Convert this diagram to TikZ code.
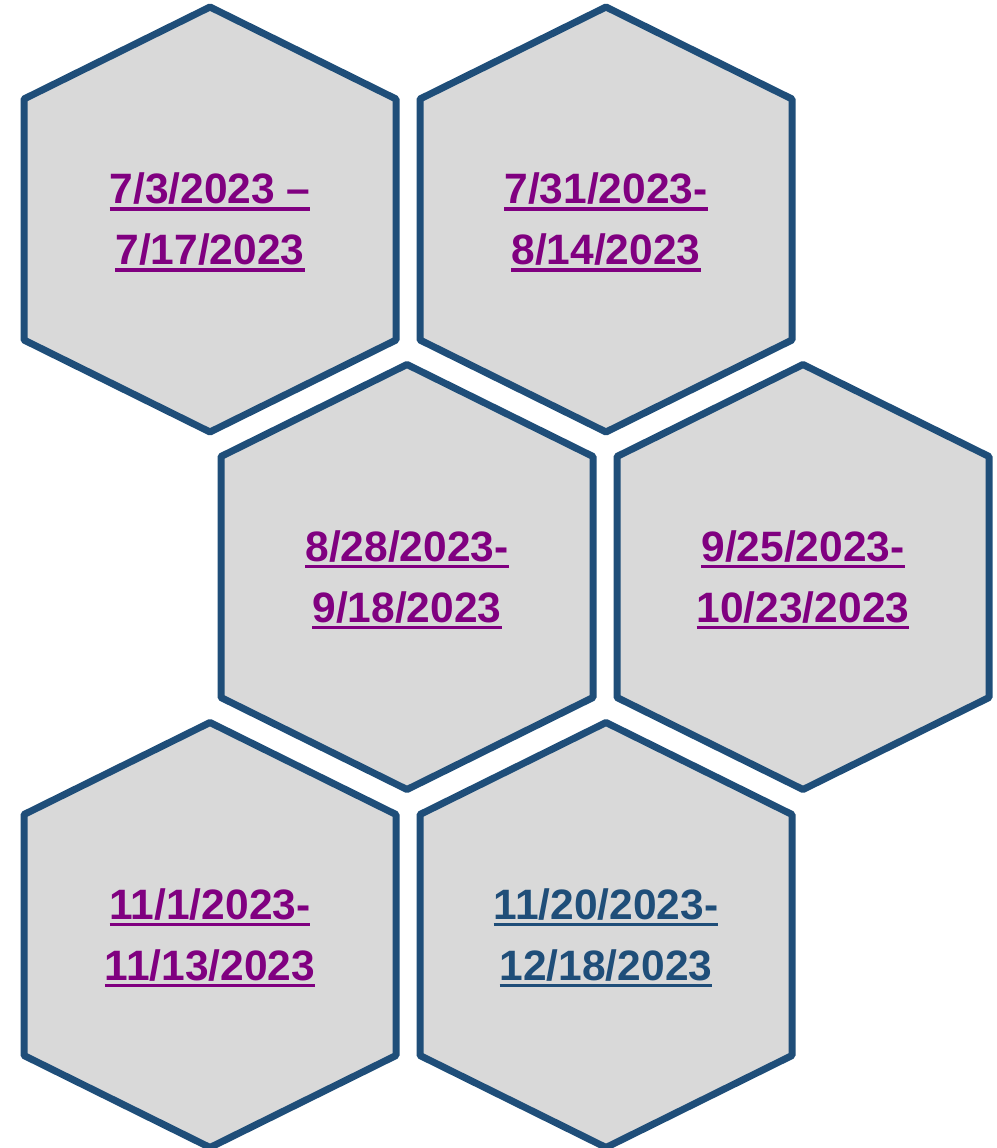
\documentclass[tikz,border=0pt]{standalone}
\usepackage{fontspec}
\setmainfont{Liberation Sans}
\definecolor{hexblue}{HTML}{1F4E79}
\definecolor{hexgray}{HTML}{D9D9D9}
\definecolor{datepurple}{HTML}{800080}
\newcommand{\dateul}[1]{\setbox0\hbox{#1}\rlap{\rule[-7pt]{\wd0}{3.5pt}}\box0}

\begin{document}
\begin{tikzpicture}[x=1pt,y=-1pt,
  hexcell/.style={draw=hexblue,fill=hexgray,line width=7pt,line join=round},
  datelbl/.style={align=center,text=datepurple,yshift=-3pt,font=\fontsize{42.5}{61}\selectfont\bfseries}]
\useasboundingbox (0,0) rectangle (996,1148);
% honeycomb cells
\foreach \cx/\cy in {210/219.5, 606/219.5, 407/577, 803/577, 210/935, 606/935}{
  \draw[hexcell] (\cx,\cy-212.5) -- ++(186,92) -- ++(0,241) -- ++(-186,92)
    -- ++(-186,-92) -- ++(0,-241) -- cycle;}
% date ranges
\node[datelbl] (r1) at (210,219.5) {\dateul{7/3/2023 –}\\\dateul{7/17/2023}};
\node[datelbl] (r2) at (606,219.5) {\dateul{7/31/2023-}\\\dateul{8/14/2023}};
\node[datelbl] (r3) at (407,577) {\dateul{8/28/2023-}\\\dateul{9/18/2023}};
\node[datelbl] (r4) at (803,577) {\dateul{9/25/2023-}\\\dateul{10/23/2023}};
\node[datelbl] (r5) at (210,935) {\dateul{11/1/2023-}\\\dateul{11/13/2023}};
\node[datelbl,text=hexblue] (r6) at (606,935) {\dateul{11/20/2023-}\\\dateul{12/18/2023}};
\end{tikzpicture}
\end{document}
